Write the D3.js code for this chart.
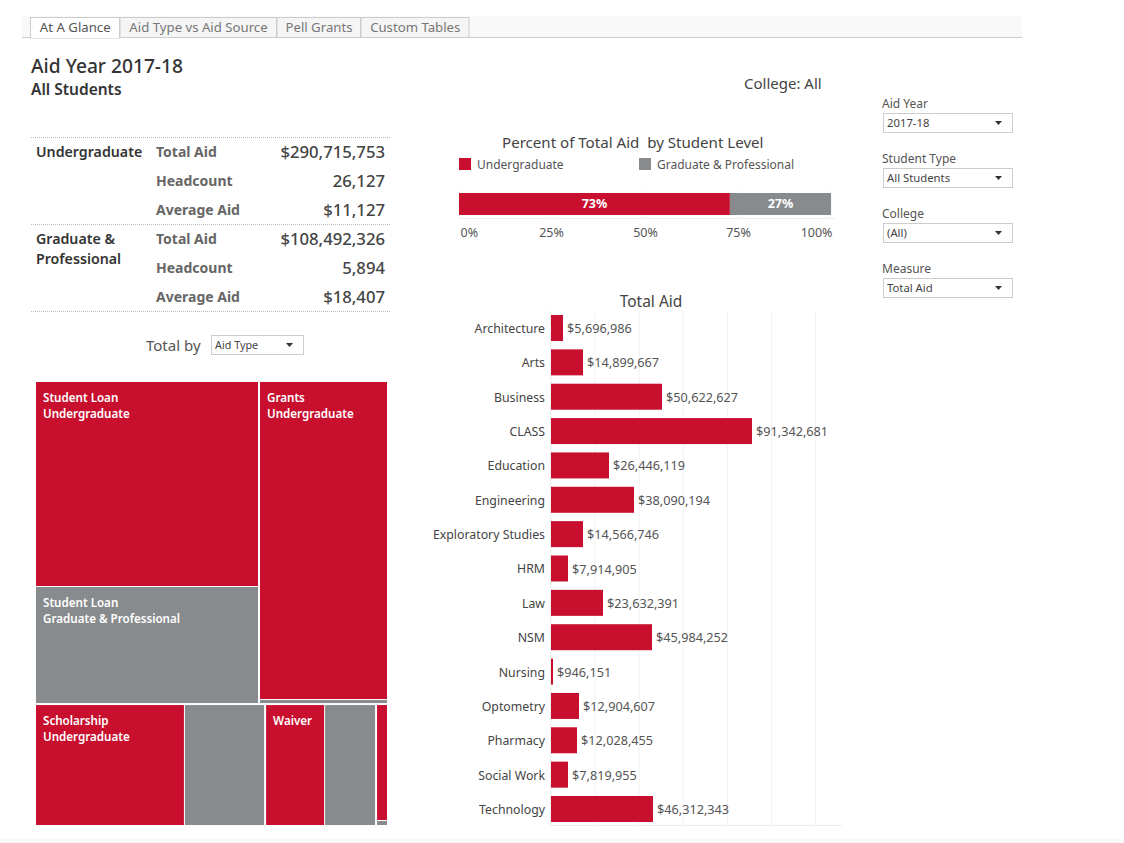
<!DOCTYPE html>
<html><head><meta charset="utf-8">
<script src="https://d3js.org/d3.v7.min.js"></script>
<style>
html,body{margin:0;padding:0;background:#fff;overflow:hidden}
text{font-family:"Noto Sans",sans-serif;white-space:pre}
</style></head><body>
<svg id="c" width="1124" height="843" viewBox="0 0 1124 843"></svg>
<script>
const tabNames=["At A Glance","Aid Type vs Aid Source","Pell Grants","Custom Tables"];
const levels=["Undergraduate","Graduate & Professional"];
const totalAid=[290715753,108492326];
const headcount=[26127,5894];
const averageAid=[11127,18407];
const percentTicks=[0,0.25,0.5,0.75,1];
const colleges=["Architecture","Arts","Business","CLASS","Education","Engineering","Exploratory Studies","HRM","Law","NSM","Nursing","Optometry","Pharmacy","Social Work","Technology"];
const collegeAid=[5696986,14899667,50622627,91342681,26446119,38090194,14566746,7914905,23632391,45984252,946151,12904607,12028455,7819955,46312343];
const aidTypes=["Student Loan","Grants","Scholarship","Waiver","Other"];
const aidUndergrad=[115.4,103.1,45.7,18.2,3.5];
const aidGraduate=[65.9,1.3,24.6,15.7,0.15];
const filterNames=["Aid Year","Student Type","College","Measure"];
const filterValues=["2017-18","All Students","(All)","Total Aid"];

const RED="#c8102e",GRAY="#888b8d";
const svg=d3.select("#c");
const T=(x,y,s,size,fill,o={})=>svg.append("text").attr("x",x).attr("y",y).text(s)
  .attr("font-size",size).attr("fill",fill).attr("font-weight",o.w||400).attr("text-anchor",o.a||"start");
const usd=d3.format("$,.0f"),num=d3.format(",.0f");

// tab strip
svg.append("rect").attr("x",22).attr("y",16).attr("width",1000).attr("height",21).attr("fill","#f9f9f9");
svg.append("line").attr("x1",22).attr("x2",1022).attr("y1",37.5).attr("y2",37.5).attr("stroke","#ccc");
const tabEdges=[30,119.5,276.5,360.5,469];
tabNames.forEach((t,i)=>{
  svg.append("rect").attr("x",tabEdges[i]+.5).attr("y",17.5).attr("width",tabEdges[i+1]-tabEdges[i]-.5).attr("height",i?20:20.5)
    .attr("fill",i?"#f5f5f5":"#fff").attr("stroke","#ccc");
  if(!i) svg.append("line").attr("x1",tabEdges[0]+1).attr("x2",tabEdges[1]-.5).attr("y1",37.5).attr("y2",37.5).attr("stroke","#fff");
  T((tabEdges[i]+tabEdges[i+1])/2+.5,32,t,13.2,i?"#777":"#555",{a:"middle"});
});
svg.append("rect").attr("y",839).attr("width",1124).attr("height",4).attr("fill","#f9f9f9");

// headings
T(31,73,"Aid Year 2017-18",19.2,"#333",{w:500});
T(31,95,"All Students",15.5,"#333",{w:600});
T(744,89,"College: All",15,"#444");

// summary table
[137.5,224.5,311.5].forEach(y=>svg.append("line").attr("x1",31).attr("x2",390).attr("y1",y).attr("y2",y)
  .attr("stroke","#bbb").attr("stroke-dasharray","1 1"));
T(36,157,"Undergraduate",14.2,"#333",{w:600});
T(36,244,"Graduate &",14.2,"#333",{w:600});
T(36,264,"Professional",14.2,"#333",{w:600});
levels.forEach((l,i)=>{
  const base=157+87*i;
  [["Total Aid",usd(totalAid[i])],["Headcount",num(headcount[i])],["Average Aid",usd(averageAid[i])]].forEach((r,j)=>{
    T(156,base+29*j,r[0],14,"#666",{w:700});
    T(385,base+29*j+1,r[1],16.7,"#444",{w:500,a:"end"});
  });
});

// filter helper
function dropdown(x,y,w,h,label,size){
  svg.append("rect").attr("x",x+.5).attr("y",y+.5).attr("width",w-1).attr("height",h-1).attr("fill","#fff").attr("stroke","#ccc");
  T(x+4,y+h-6,label,size,"#444");
  const ax=x+w-15,ay=y+h/2-2;
  svg.append("path").attr("d",`M${ax-3},${ay}h7l-3.5,4z`).attr("fill","#333");
}
filterNames.forEach((n,i)=>{
  T(882,108+55*i,n,12,"#555");
  dropdown(883,113+55*i,130,20,filterValues[i],11.3);
});
T(146,351,"Total by",15,"#555");
dropdown(211,335,93,20,"Aid Type",10.8);

// percent bar
const px=d3.scaleLinear().domain([0,1]).range([459,831]);
const totalAll=d3.sum(totalAid);
T(502,148,"Percent of Total Aid  by Student Level",15.1,"#444");
[[459,477],[639,657]].forEach((p,i)=>{
  svg.append("rect").attr("x",p[0]).attr("y",158).attr("width",12).attr("height",12).attr("fill",i?GRAY:RED);
  T(p[1],169,levels[i],12,"#555");
});
percentTicks.forEach(t=>svg.append("line").attr("x1",px(t)).attr("x2",px(t)).attr("y1",190).attr("y2",218).attr("stroke","#f2f2f2"));
svg.append("line").attr("x1",459).attr("x2",835).attr("y1",218.5).attr("y2",218.5).attr("stroke","#eee");
let cum=0;
totalAid.forEach((v,i)=>{
  const s=v/totalAll,x0=px(cum),x1=px(cum+s);
  svg.append("rect").attr("x",x0).attr("y",193).attr("width",x1-x0).attr("height",22).attr("fill",i?GRAY:RED);
  T((x0+x1)/2,208,d3.format(".0%")(s),12.5,"#fff",{w:700,a:"middle"});
  cum+=s;
});
const pAxis=svg.append("g").attr("transform","translate(0,218)")
  .call(d3.axisBottom(px).tickValues(percentTicks).tickFormat(d3.format(".0%")).tickSize(0).tickPadding(5));
pAxis.select(".domain").remove();
pAxis.selectAll("text").attr("font-size",12.5).attr("fill","#555").attr("font-family",null).attr("y",10.5)
  .attr("text-anchor",d=>d===0?"start":d===1?"end":"middle").attr("dx",d=>d===0?1:d===1?1:d===0.25?-1:0);

// college bars
const bx=d3.scaleLinear().domain([0,132e6]).range([551,842]);
const by=d3.scaleBand().domain(colleges).range([311,826]).paddingInner(0.2433).paddingOuter(0.1164);
T(651,307,"Total Aid",15.5,"#444",{a:"middle"});
d3.range(0,121e6,20e6).forEach(t=>svg.append("line").attr("x1",bx(t)).attr("x2",bx(t)).attr("y1",311).attr("y2",825).attr("stroke","#f2f2f2"));
svg.append("line").attr("x1",551).attr("x2",842).attr("y1",825.5).attr("y2",825.5).attr("stroke","#eee");
svg.append("line").attr("x1",550.5).attr("x2",550.5).attr("y1",311).attr("y2",825).attr("stroke","#eee");
const barEnd=i=>Math.floor(bx(collegeAid[i]));
svg.append("g").selectAll("rect").data(colleges).join("rect")
  .attr("x",bx(0)).attr("y",d=>by(d)).attr("height",by.bandwidth())
  .attr("width",(d,i)=>barEnd(i)-bx(0)).attr("fill",RED);
svg.append("g").selectAll("text").data(colleges).join("text")
  .attr("x",(d,i)=>barEnd(i)+4).attr("y",d=>by(d)+by.bandwidth()/2+5)
  .text((d,i)=>usd(collegeAid[i])).attr("font-size",12.7).attr("fill","#555");
const yAxis=svg.append("g").attr("transform","translate(551,1)").call(d3.axisLeft(by).tickSize(0).tickPadding(6));
yAxis.select(".domain").remove();
yAxis.selectAll("text").attr("font-size",12.3).attr("fill","#444").attr("font-family",null);

// treemap
const tree={name:"root",children:aidTypes.map((t,i)=>({name:t,children:[
  {name:t,level:0,value:aidUndergrad[i]},{name:t,level:1,value:aidGraduate[i]}]}))};
const nested={name:"root",children:[
  {name:"top",children:tree.children.slice(0,2)},
  {name:"bottom",children:tree.children.slice(2)}]};
const root=d3.hierarchy(nested).sum(d=>d.value||0);
const tile=(node,x0,y0,x1,y1)=>{
  if(node.depth===0) d3.treemapSlice(node,x0,y0,x1,y1);
  else if(node.depth===1) d3.treemapDice(node,x0,y0,x1,y1);
  else if(["Scholarship","Waiver"].includes(node.data.name)) d3.treemapDice(node,x0,y0,x1,y1);
  else d3.treemapSlice(node,x0,y0,x1,y1);
};
d3.treemap().tile(tile).size([351,443]).paddingInner(n=>n.depth===2?1:2)(root);
const tm=svg.append("g").attr("transform","translate(36,382)");
tm.selectAll("rect").data(root.leaves()).join("rect")
  .attr("x",d=>d.x0).attr("y",d=>d.y0).attr("width",d=>d.x1-d.x0).attr("height",d=>d.y1-d.y0)
  .attr("fill",d=>d.data.level?GRAY:RED);
const tmLabels=[["Student Loan",0,["Student Loan","Undergraduate"]],["Student Loan",1,["Student Loan","Graduate & Professional"]],
  ["Grants",0,["Grants","Undergraduate"]],["Scholarship",0,["Scholarship","Undergraduate"]],["Waiver",0,["Waiver"]]];
tmLabels.forEach(([n,l,lines])=>{
  const leaf=root.leaves().find(d=>d.data.name===n&&d.data.level===l);
  lines.forEach((s,i)=>tm.append("text").attr("x",leaf.x0+7).attr("y",leaf.y0+20+16*i).text(s)
    .attr("font-size",11.6).attr("font-weight",600).attr("fill","#fff"));
});
</script>
</body></html>
